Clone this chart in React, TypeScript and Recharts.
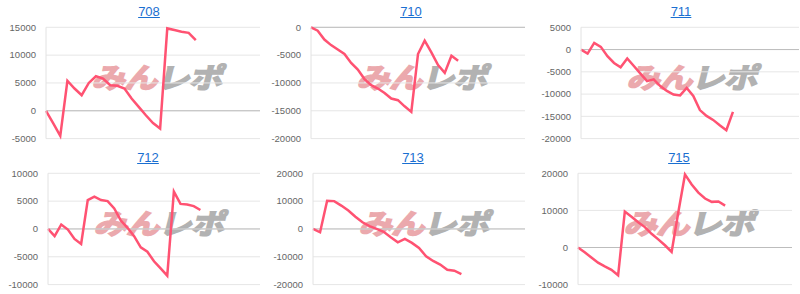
import React from "react";
import { LineChart, Line, XAxis, YAxis, CartesianGrid, ReferenceLine } from "recharts";

// machine numbers shown as panel titles
const MACHINES = ["708", "710", "711", "712", "713", "715"];

// cumulative medal difference per day
const DIFF_708 = [0, -2200, -4500, 5400, 4000, 2800, 5000, 6200, 5800, 4600, 4500, 4000, 2200, 700, -800, -2200, -3200, 14800, 14500, 14200, 14000, 12700];
const DIFF_710 = [0, -600, -2200, -3200, -4000, -4800, -6400, -7600, -9300, -10400, -11000, -11800, -12800, -13100, -14200, -15200, -4800, -2400, -4500, -6800, -8200, -5100, -6000];
const DIFF_711 = [0, -900, 1500, 600, -1500, -3000, -4000, -2000, -3700, -5400, -7100, -6700, -8200, -9300, -10100, -10300, -8600, -10400, -13600, -14900, -15800, -17000, -18100, -14000];
const DIFF_712 = [0, -1300, 800, -100, -1800, -2700, 5200, 5800, 5200, 5000, 3700, 1500, 200, -1300, -3300, -4100, -5800, -7100, -8400, 6700, 4500, 4400, 4100, 3400];
const DIFF_713 = [0, -1200, 10100, 10000, 8400, 6600, 4400, 2400, 1000, 0, -1000, -3000, -4800, -3600, -5000, -6800, -9800, -11500, -12800, -14700, -15000, -16200];
const DIFF_715 = [0, -1300, -2700, -4100, -5100, -6000, -7500, 9700, 8300, 6800, 5500, 3700, 2200, 600, -1200, 9500, 19700, 17000, 14800, 13200, 12300, 12400, 11300];

// y-axis tick labels per panel
const TICKS_708 = [-5000, 0, 5000, 10000, 15000];
const TICKS_710 = [-20000, -15000, -10000, -5000, 0];
const TICKS_711 = [-20000, -15000, -10000, -5000, 0, 5000];
const TICKS_712 = [-10000, -5000, 0, 5000, 10000];
const TICKS_713 = [-20000, -10000, 0, 10000, 20000];
const TICKS_715 = [-10000, 0, 10000, 20000];

// number of day slots on each x axis
const SLOTS = [31, 33, 34, 33, 31, 33];

const SERIES = [DIFF_708, DIFF_710, DIFF_711, DIFF_712, DIFF_713, DIFF_715];
const TICKS = [TICKS_708, TICKS_710, TICKS_711, TICKS_712, TICKS_713, TICKS_715];

// layout (pixels) kept apart from the data
const LAYOUT = [
  { left: 0, plotLeft: 46, plotRight: 260, top: 0, titleX: 149 },
  { left: 265, plotLeft: 311, plotRight: 525, top: 0, titleX: 411 },
  { left: 533, plotLeft: 581, plotRight: 799, top: 0, titleX: 681 },
  { left: 0, plotLeft: 48, plotRight: 260, top: 146, titleX: 148 },
  { left: 265, plotLeft: 313, plotRight: 525, top: 146, titleX: 413 },
  { left: 533, plotLeft: 578, plotRight: 792, top: 146, titleX: 679 },
];

const FONT = '"Liberation Sans", Arial, sans-serif';
const H = 146;
const PLOT_TOP = 27.3;
const PLOT_H = 111.3;

function Watermark({ x, y }: { x: number; y: number }) {
  const pink = "#eba9ad";
  const gray = "#b2b2b2";
  return (
    <div
      style={{
        position: "absolute",
        left: x,
        top: y,
        fontFamily: '"Noto Sans CJK JP", sans-serif',
        fontWeight: 700,
        fontSize: 28,
        lineHeight: 1,
        letterSpacing: -1,
        transform: "skewX(-14deg) scaleX(1.2)",
        transformOrigin: "left top",
        whiteSpace: "nowrap",
      }}
    >
      <span style={{ color: pink, WebkitTextStroke: `1.6px ${pink}` }}>みん</span>
      <span style={{ color: gray, WebkitTextStroke: `1.6px ${gray}` }}>レポ</span>
    </div>
  );
}

function Panel({ idx }: { idx: number }) {
  const pos = LAYOUT[idx];
  const ticks = TICKS[idx];
  const data = SERIES[idx].map((v, i) => ({ i, v }));
  const width = pos.plotRight - pos.left + 1;
  return (
    <>
      <div
        style={{
          position: "absolute",
          left: pos.titleX - 40,
          top: pos.top + 4,
          width: 80,
          textAlign: "center",
          fontFamily: FONT,
          fontSize: 13,
          lineHeight: "15px",
          color: "#1a6fd1",
          textDecoration: "underline",
        }}
      >
        {MACHINES[idx]}
      </div>
      <Watermark x={pos.plotLeft + 52} y={pos.top + 62} />
      <div style={{ position: "absolute", left: pos.left, top: pos.top }}>
        <LineChart
          width={width}
          height={H}
          data={data}
          margin={{ top: PLOT_TOP, right: 1, bottom: H - PLOT_TOP - PLOT_H, left: 0 }}
        >
          <CartesianGrid stroke="#e6e6e6" vertical={false} />
          <XAxis dataKey="i" type="number" domain={[0, SLOTS[idx] - 1]} hide />
          <YAxis
            width={pos.plotLeft - pos.left}
            domain={[ticks[0], ticks[ticks.length - 1]]}
            ticks={ticks}
            interval={0}
            tick={{ fill: "#666", fontSize: 9.5, fontFamily: FONT }}
            tickLine={false}
            tickMargin={4}
            axisLine={{ stroke: "#e2e2e2" }}
          />
          <ReferenceLine y={0} stroke="#bdbdbd" />
          <Line
            type="linear"
            dataKey="v"
            stroke="#ff5272"
            strokeWidth={2.5}
            dot={false}
            isAnimationActive={false}
          />
        </LineChart>
      </div>
    </>
  );
}

export default function App() {
  return (
    <div style={{ position: "relative", width: 800, height: 294, background: "#fff", overflow: "hidden" }}>
      <style>{"body{margin:0}"}</style>
      {MACHINES.map((_, i) => (
        <Panel key={i} idx={i} />
      ))}
    </div>
  );
}
